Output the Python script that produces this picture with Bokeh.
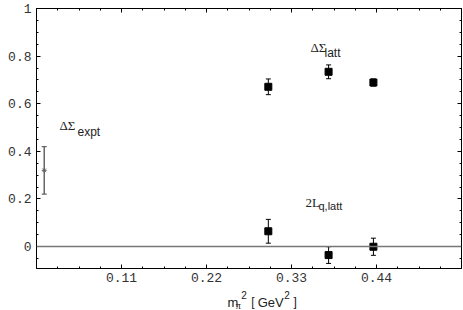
from bokeh.plotting import figure
from bokeh.layouts import column
from bokeh.models import LinearAxis, FixedTicker, Range1d, Span, Label, CustomJSTickFormatter
from bokeh.embed import file_html
from bokeh.resources import INLINE

# ---- data ----
expt_x = [0.01]
expt_y = [0.32]
expt_err = [0.10]

latt_x = [0.300, 0.378, 0.436]
dsigma_y = [0.671, 0.734, 0.689]
dsigma_err = [0.033, 0.029, 0.015]
lq_y = [0.064, -0.036, -0.001]
lq_err = [0.050, 0.035, 0.036]

x_ticks = [0.11, 0.22, 0.33, 0.44]
x_minor = [0.0275, 0.055, 0.0825, 0.1375, 0.165, 0.1925, 0.2475, 0.275, 0.3025,
           0.3575, 0.385, 0.4125, 0.4675, 0.495, 0.5225]
y_ticks = [0, 0.2, 0.4, 0.6, 0.8, 1.0]
y_minor = [-0.05, 0.05, 0.1, 0.15, 0.25, 0.3, 0.35, 0.45, 0.5, 0.55, 0.65, 0.7,
           0.75, 0.85, 0.9, 0.95]

X_MAX = 0.55
Y_MIN, Y_MAX = -0.0924, 1.0

p = figure(width=463, height=288, x_range=Range1d(0, X_MAX), y_range=Range1d(Y_MIN, Y_MAX),
           x_axis_type=None, y_axis_type=None, output_backend="svg", toolbar_location=None,
           min_border_left=36, min_border_right=2, min_border_top=8, min_border_bottom=20)
p.outline_line_color = "black"
p.outline_line_width = 1
p.background_fill_color = "white"
p.border_fill_color = "white"

fmt = CustomJSTickFormatter(code="return String(Math.round(tick*100)/100)")
blank = CustomJSTickFormatter(code="return ''")
TICK_FONT = "Liberation Mono"


def make_axis(ticks, minor, show_labels):
    return LinearAxis(ticker=FixedTicker(ticks=ticks, minor_ticks=minor),
                      formatter=fmt if show_labels else blank,
                      major_tick_in=4, major_tick_out=0, minor_tick_in=2, minor_tick_out=0,
                      axis_line_color="black", major_tick_line_color="black",
                      minor_tick_line_color="black",
                      major_label_text_font=TICK_FONT, major_label_text_color="#333333",
                      major_label_text_font_size="13px",
                      major_label_standoff=5 if show_labels else 0)


bx = make_axis(x_ticks, x_minor, True)
bx.major_label_standoff = 4
p.add_layout(bx, "below")
p.add_layout(make_axis(x_ticks, x_minor, False), "above")
p.add_layout(make_axis(y_ticks, y_minor, True), "left")
p.add_layout(make_axis(y_ticks, y_minor, False), "right")

p.add_layout(Span(location=0, dimension="width", line_color="#777777", line_width=1.5))

# experimental point
e_lo = [y - e for y, e in zip(expt_y, expt_err)]
e_hi = [y + e for y, e in zip(expt_y, expt_err)]
p.segment(x0=expt_x, y0=e_lo, x1=expt_x, y1=e_hi, line_color="#666666", line_width=1.5)
p.scatter(expt_x, e_lo, marker="dash", size=5, line_color="#666666", line_width=1.2)
p.scatter(expt_x, e_hi, marker="dash", size=5, line_color="#666666", line_width=1.2)
p.scatter(expt_x, expt_y, marker="asterisk", size=5, line_color="#666666", line_width=1)

# lattice points
for ys, es in ((dsigma_y, dsigma_err), (lq_y, lq_err)):
    lo = [y - e for y, e in zip(ys, es)]
    hi = [y + e for y, e in zip(ys, es)]
    p.segment(x0=latt_x, y0=lo, x1=latt_x, y1=hi, line_color="black", line_width=1)
    p.scatter(latt_x, lo, marker="dash", size=5, line_color="black", line_width=1)
    p.scatter(latt_x, hi, marker="dash", size=5, line_color="black", line_width=1)
    p.scatter(latt_x, ys, marker="square", size=7, fill_color="black", line_color="black")


def ref(X, Y):
    # reference pixel -> data coordinates of the main plot
    return (X - 36) / (425 / X_MAX), (246 - Y) / 238


def lab(fig, text, x, y, font="Liberation Sans", size="12px", color="#222222"):
    fig.add_layout(Label(x=x, y=y, text=text, text_font=font, text_font_size=size,
                         text_color=color, text_baseline="alphabetic", text_align="left"))


SERIF = "Liberation Serif"
lab(p, "ΔΣ", *ref(59, 125), SERIF, "13px")
lab(p, "expt", *ref(77, 131), size="12px")
lab(p, "ΔΣ", *ref(310, 47), SERIF, "13px")
lab(p, "latt", *ref(324, 52), size="12px")
lab(p, "2L", *ref(305, 202), SERIF, "13px")
lab(p, "q,latt", *ref(318, 205), size="11px")

# x-axis title in a strip below the plot (pixel coordinates, y measured from strip top)
t = figure(width=463, height=22, x_range=Range1d(0, 463), y_range=Range1d(22, 0),
           x_axis_type=None, y_axis_type=None, output_backend="svg", toolbar_location=None,
           min_border=0)
t.outline_line_color = None
t.background_fill_color = "white"
t.border_fill_color = "white"
TOP = 288
lab(t, "m", 208, 302 - TOP, size="13px")
lab(t, "π", 217, 305 - TOP, SERIF, "10px")
lab(t, "2", 223, 294 - TOP, size="10px")
lab(t, "[", 234, 301 - TOP, size="12px")
lab(t, "GeV", 241, 302 - TOP, size="13px")
lab(t, "2", 270, 294 - TOP, size="10px")
lab(t, "]", 280, 301 - TOP, size="12px")

layout = column(p, t, spacing=0)
open("out.html", "w").write(file_html(layout, INLINE))
